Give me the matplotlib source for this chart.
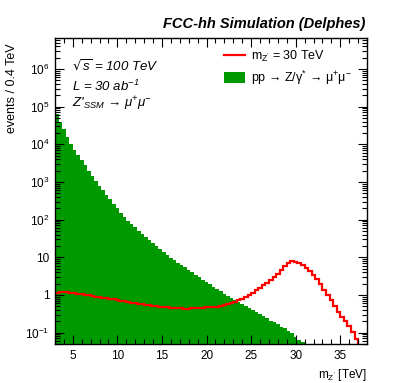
import numpy as np
import matplotlib
matplotlib.use('Agg')
import matplotlib.pyplot as plt
from matplotlib.lines import Line2D
from matplotlib.patches import Patch
from matplotlib.ticker import FixedLocator, FixedFormatter, LogLocator, NullFormatter, MultipleLocator

plt.rcParams['font.family'] = ['Liberation Sans', 'DejaVu Sans']
plt.rcParams['mathtext.default'] = 'regular'

# bin edges: 0.4 TeV bins from 3.0 to 38.2 TeV
bin_lo = 3.0
bin_w = 0.4
n_bins = 88

# Drell-Yan background, events per bin
dy_events = [63100, 39800, 25100, 15800, 10000,
             7240, 5250, 3800, 2750, 2000, 1450, 1050,
             794, 603, 457, 347, 263, 200, 151, 115,
             91.2, 75.9, 63.1, 51.3, 42.7, 35.5, 29.5, 24.5, 20.4, 16.6, 13.8, 11.5,
             9.55, 8.32, 7.24, 6.17, 5.37, 4.68, 3.98, 3.47, 3.02, 2.57, 2.24, 1.95, 1.66, 1.45, 1.26, 1.07,
             0.93, 0.83, 0.72, 0.65, 0.58, 0.50, 0.45, 0.39, 0.35, 0.31, 0.27, 0.24, 0.21, 0.19,
             0.166, 0.145, 0.129, 0.112, 0.10, 0.079, 0.063, 0.056,
             0, 0, 0, 0, 0, 0, 0, 0, 0, 0, 0, 0, 0, 0, 0, 0, 0, 0]

# Z' signal, m = 30 TeV
zp_events = [1.15, 1.2, 1.2, 1.17, 1.15, 1.1, 1.07, 1.05, 1.0, 0.98,
             0.93, 0.89, 0.87, 0.85, 0.81, 0.79, 0.76, 0.74, 0.71, 0.68,
             0.66, 0.63, 0.62, 0.59, 0.575, 0.55, 0.54, 0.51, 0.50, 0.49,
             0.48, 0.47, 0.46, 0.45, 0.44, 0.44, 0.43, 0.43, 0.44, 0.44,
             0.45, 0.45, 0.47, 0.48, 0.48, 0.49, 0.50, 0.53, 0.56, 0.60,
             0.66, 0.72, 0.79, 0.89, 1.0, 1.15, 1.32, 1.55, 1.82, 2.14,
             2.5, 3.0, 3.7, 4.6, 5.8, 6.9, 7.8, 7.7, 7.1, 6.3,
             5.2, 4.3, 3.4, 2.6, 1.9, 1.35, 0.98, 0.74, 0.52, 0.36,
             0.26, 0.20, 0.148, 0.107, 0.069, 0, 0, 0]

edges = bin_lo + bin_w * np.arange(n_bins + 1)
floor = 1e-3

fig = plt.figure(figsize=(3.99, 3.83), dpi=100)
ax = fig.add_axes([55/399, 39/383, 312/399, 306/383])

ax.stairs(np.maximum(dy_events, floor), edges, fill=True, baseline=floor,
          color='#009900', lw=0)
ax.stairs(np.maximum(zp_events, floor), edges, color='#ff0000', lw=1.6, baseline=None)

ax.set_yscale('log')
ax.set_xlim(3, 38)
ax.set_ylim(0.05, 6.6e6)

ax.xaxis.set_major_locator(MultipleLocator(5))
ax.xaxis.set_minor_locator(MultipleLocator(1))
ytk = [0.1, 1, 10, 100, 1e3, 1e4, 1e5, 1e6]
ylab = [r'$10^{-1}$', '1', '10', r'$10^{2}$', r'$10^{3}$', r'$10^{4}$', r'$10^{5}$', r'$10^{6}$']
ax.yaxis.set_major_locator(FixedLocator(ytk))
ax.yaxis.set_major_formatter(FixedFormatter(ylab))
ax.yaxis.set_minor_locator(LogLocator(base=10, subs=np.arange(2, 10), numticks=20))
ax.yaxis.set_minor_formatter(NullFormatter())

ax.tick_params(which='both', direction='in', top=True, right=True, width=0.8, labelsize=8.5)
ax.tick_params(which='major', length=6.5)
ax.tick_params(which='minor', length=3.5)
ax.tick_params(axis='x', pad=4)
ax.tick_params(axis='y', pad=4)
for s in ax.spines.values():
    s.set_linewidth(1.0)

fig.text(365/399, 1 - 24/383, 'FCC-hh Simulation (Delphes)', ha='right', va='center',
         fontsize=10.5, fontweight='bold', style='italic')
fig.text(12/399, 1 - 43/383, 'events / 0.4 TeV', rotation=90, ha='center', va='top', fontsize=9)
fig.text(367/399, 1 - 378/383, r"m$_{Z'}$ [TeV]", ha='right', va='baseline', fontsize=8.5)

ax.text(0.055, 0.908, r'$\sqrt{s}$ = 100 TeV', transform=ax.transAxes, style='italic', fontsize=9.5, va='center')
ax.text(0.055, 0.843, r'L = 30 ab$^{-1}$', transform=ax.transAxes, style='italic', fontsize=9.5, va='center')
ax.text(0.055, 0.786, r"Z'$_{SSM}$ → $\mu^{+}\mu^{-}$", transform=ax.transAxes,
        style='italic', fontsize=9.5, va='center')

handles = [Line2D([], [], color='#ff0000', lw=1.6),
           Patch(facecolor='#009900', edgecolor='none')]
labels = [r"m$_{Z'}$ = 30 TeV", r'pp → Z/$\gamma^{*}$ → $\mu^{+}\mu^{-}$']
ax.legend(handles, labels, loc='upper left', bbox_to_anchor=(224/399, 1 - 49/383),
          bbox_transform=fig.transFigure, frameon=False, fontsize=9, borderpad=0,
          borderaxespad=0, handlelength=1.7, handleheight=0.9, handletextpad=0.45,
          labelspacing=0.35)

fig.savefig('out.png', dpi=100)
